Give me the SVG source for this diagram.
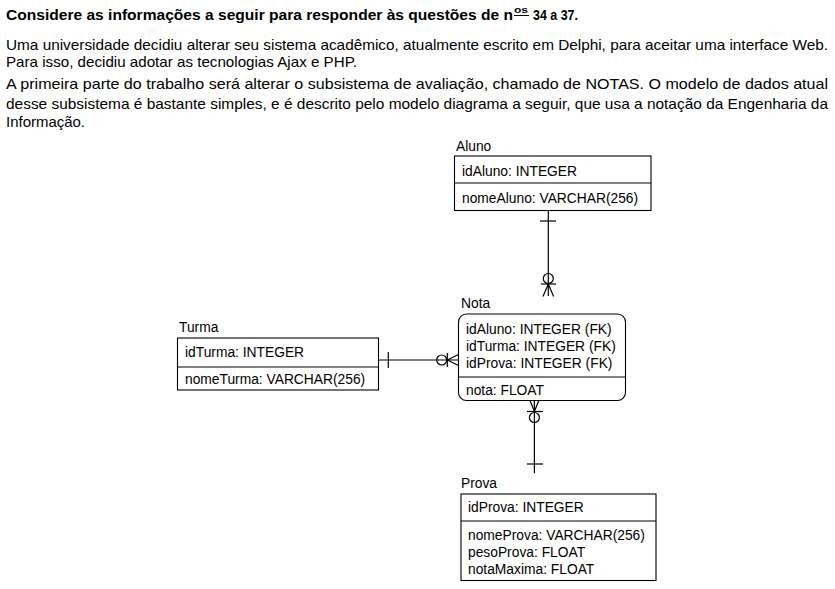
<svg xmlns="http://www.w3.org/2000/svg" width="835" height="589" viewBox="0 0 835 589">
<style>
.intro{font-family:"Liberation Sans Narrow","Liberation Sans",Arial,sans-serif;font-size:15px;fill:#000}
.hd{font-weight:bold}
.sup{font-family:"Liberation Sans Narrow","Liberation Sans",Arial,sans-serif;font-size:9px;font-weight:bold;fill:#000}
.t{font-family:"Liberation Sans",Arial,sans-serif;font-size:13.8px;fill:#000}
.box{fill:#fff;stroke:#000;stroke-width:1.1}
.ln{stroke:#000;stroke-width:1.2;fill:none}
</style>
<rect width="835" height="589" fill="#fff"/>
<g id="intro">
<text class="intro hd" x="6" y="20" textLength="507" lengthAdjust="spacingAndGlyphs">Considere as informações a seguir para responder às questões de n</text>
<text class="sup" x="514" y="13" textLength="14" lengthAdjust="spacingAndGlyphs">os</text>
<line x1="514" y1="15.5" x2="529" y2="15.5" stroke="#000" stroke-width="1"/>
<text class="intro hd" x="533" y="20" textLength="45" lengthAdjust="spacingAndGlyphs">34 a 37.</text>
<text class="intro" x="6" y="50" textLength="822" lengthAdjust="spacingAndGlyphs">Uma universidade decidiu alterar seu sistema acadêmico, atualmente escrito em Delphi, para aceitar uma interface Web.</text>
<text class="intro" x="6" y="67" textLength="351" lengthAdjust="spacingAndGlyphs">Para isso, decidiu adotar as tecnologias Ajax e PHP.</text>
<text class="intro" x="6" y="89" textLength="822" lengthAdjust="spacingAndGlyphs">A primeira parte do trabalho será alterar o subsistema de avaliação, chamado de NOTAS. O modelo de dados atual</text>
<text class="intro" x="6" y="109" textLength="822" lengthAdjust="spacingAndGlyphs">desse subsistema é bastante simples, e é descrito pelo modelo diagrama a seguir, que usa a notação da Engenharia da</text>
<text class="intro" x="6" y="127" textLength="79" lengthAdjust="spacingAndGlyphs">Informação.</text>
</g>
<g id="connectors">
<!-- Aluno - Nota -->
<line class="ln" x1="548.3" y1="211" x2="548.3" y2="296"/>
<line class="ln" x1="540" y1="221" x2="556" y2="221"/>
<circle class="ln" cx="548.3" cy="278.5" r="5"/>
<line class="ln" x1="541" y1="284" x2="556" y2="284"/>
<line class="ln" x1="548.3" y1="284" x2="543" y2="296.5"/>
<line class="ln" x1="548.3" y1="284" x2="553.6" y2="296.5"/>
<!-- Turma - Nota -->
<line class="ln" x1="378" y1="360" x2="458.5" y2="360"/>
<line class="ln" x1="388.3" y1="352" x2="388.3" y2="368"/>
<circle class="ln" cx="441.7" cy="360" r="5"/>
<line class="ln" x1="447.3" y1="353" x2="447.3" y2="367"/>
<line class="ln" x1="447.3" y1="360" x2="458.5" y2="354.5"/>
<line class="ln" x1="447.3" y1="360" x2="458.5" y2="365.5"/>
<!-- Nota - Prova -->
<line class="ln" x1="534.4" y1="400" x2="534.4" y2="473"/>
<line class="ln" x1="529.8" y1="400" x2="534.4" y2="411.5"/>
<line class="ln" x1="539" y1="400" x2="534.4" y2="411.5"/>
<line class="ln" x1="527" y1="411.5" x2="543" y2="411.5"/>
<circle class="ln" cx="534.4" cy="417.5" r="5"/>
<line class="ln" x1="527" y1="464" x2="543" y2="464"/>
</g>
<g id="Aluno">
<text class="t" x="456" y="151">Aluno</text>
<rect class="box" x="454.5" y="156" width="196.5" height="54.5"/>
<line class="ln" x1="454.5" y1="183" x2="651" y2="183" stroke-width="1.1"/>
<text class="t" x="462" y="176">idAluno: INTEGER</text>
<text class="t" x="462" y="203">nomeAluno: VARCHAR(256)</text>
</g>
<g id="Nota">
<text class="t" x="461" y="308">Nota</text>
<rect class="box" x="458.5" y="314" width="167" height="86.5" rx="8" ry="8"/>
<line class="ln" x1="458.5" y1="377" x2="625.5" y2="377" stroke-width="1.1"/>
<text class="t" x="466" y="334">idAluno: INTEGER (FK)</text>
<text class="t" x="466" y="351">idTurma: INTEGER (FK)</text>
<text class="t" x="466" y="368">idProva: INTEGER (FK)</text>
<text class="t" x="466" y="395">nota: FLOAT</text>
</g>
<g id="Turma">
<text class="t" x="179" y="332">Turma</text>
<rect class="box" x="177.5" y="338" width="201" height="52"/>
<line class="ln" x1="177.5" y1="367" x2="378.5" y2="367" stroke-width="1.1"/>
<text class="t" x="185" y="357">idTurma: INTEGER</text>
<text class="t" x="185" y="384">nomeTurma: VARCHAR(256)</text>
</g>
<g id="Prova">
<text class="t" x="461" y="488">Prova</text>
<rect class="box" x="461" y="494" width="195" height="86.5"/>
<line class="ln" x1="461" y1="521" x2="656" y2="521" stroke-width="1.1"/>
<text class="t" x="468" y="512">idProva: INTEGER</text>
<text class="t" x="468" y="540">nomeProva: VARCHAR(256)</text>
<text class="t" x="468" y="557">pesoProva: FLOAT</text>
<text class="t" x="468" y="574">notaMaxima: FLOAT</text>
</g>
</svg>
